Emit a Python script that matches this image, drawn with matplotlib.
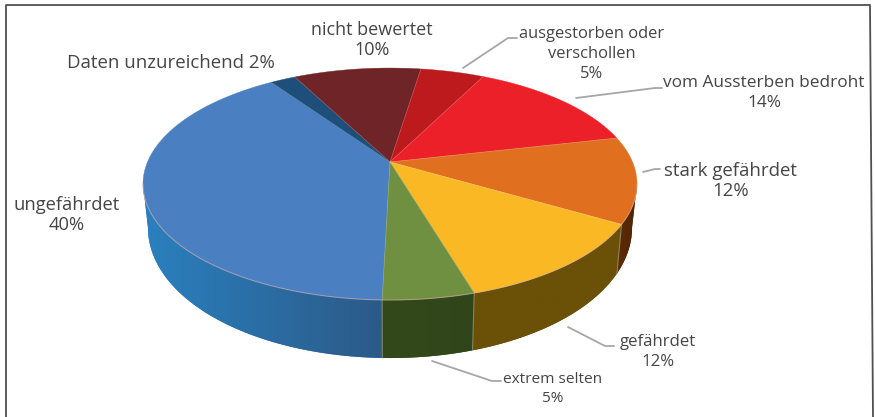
import numpy as np
import matplotlib
matplotlib.use("Agg")
import matplotlib.pyplot as plt
from matplotlib.colors import to_rgb
from matplotlib.patches import Polygon

plt.rcParams['font.family'] = ['Open Sans', 'DejaVu Sans']

# data, clockwise from the front of the pie
categories = ['ungefährdet', 'Daten unzureichend', 'nicht bewertet', 'ausgestorben oder verschollen',
              'vom Aussterben bedroht', 'stark gefährdet', 'gefährdet', 'extrem selten']
values = [40, 2, 10, 5, 14, 12, 12, 5]
top_colors = ['#4a80c2', '#1d4f7a', '#6f2427', '#bd1a1e', '#ec2029', '#e07020', '#fab824', '#6f9040']
side_left = ['#2a80bf', '#1d4f7a', '#4a1518', '#7a1013', '#8f1218', '#5e2c04', '#6b5008', '#34491a']
side_right = ['#2c5a88', '#1d4f7a', '#4a1518', '#7a1013', '#8f1218', '#4f2402', '#6b5008', '#30451a']

# label text, anchor centre, font size, line spacing
labels = [
    ('ungefährdet\n40%', 67, 215, 13.2, 1.15),
    ('Daten unzureichend 2%', 171, 63, 13.4, 1.15),
    ('nicht bewertet\n10%', 372, 40, 13.0, 1.2),
    ('ausgestorben oder\nverschollen\n5%', 592, 54, 11.9, 1.34),
    ('vom Aussterben bedroht\n14%', 764, 93, 12.4, 1.27),
    ('stark gefährdet\n12%', 731, 181, 13.4, 1.17),
    ('gefährdet\n12%', 658, 352, 12.1, 1.27),
    ('extrem selten\n5%', 553, 389, 11.1, 1.42),
]
leaders = [
    ([463, 508, 517], [68, 38, 38]),
    ([576, 655, 662], [98, 88, 88]),
    ([643, 655, 660], [172, 169, 169]),
    ([568, 605, 614], [327, 346, 346]),
    ([432, 492, 501], [361, 381, 381]),
]

# geometry of the tilted disc, in pixels
cx, cy = 390, 162
rx, ry, persp = 242.5, 111.8, 0.19
start = 181.5
# part of the rim that shows a wall: between the two silhouette tangents
wall_from = np.degrees(np.arccos(-persp))
wall_to = 360 - wall_from


def top_xy(theta):
    u, v = np.sin(np.radians(theta)), np.cos(np.radians(theta))
    w = 1 + persp * v
    return cx + rx * u / w, cy - ry * v / w


def bottom_xy(theta):
    x, y = top_xy(theta)
    v = np.cos(np.radians(theta))
    return cx + (x - cx) * 0.98, y + 40 - 18 * v


fig = plt.figure(figsize=(8.75, 4.17), dpi=100)
ax = fig.add_axes([0, 0, 1, 1])

# frame, slightly skewed in the scan and open at the bottom
ax.plot([6, 6, 870, 873], [417, 5, 5, 417], color='#505050', lw=1.3, zorder=1)

edges = start + np.cumsum([0] + values) * 3.6

# side wall: one clipped horizontal gradient per visible slice
for i in range(len(values)):
    # angles past 360 wrap round to the right side of the pie
    shift = 360 if edges[i] >= 360 else 0
    a, b = max(edges[i] - shift, wall_from), min(edges[i + 1] - shift, wall_to)
    if a >= b:
        continue
    th = np.linspace(a, b, 100)
    xt, yt = top_xy(th)
    xb, yb = bottom_xy(th)
    poly = Polygon(np.c_[np.r_[xt, xb[::-1]], np.r_[yt, yb[::-1]]], closed=True,
                   fc=side_left[i], ec='none', zorder=2)
    ax.add_patch(poly)
    x0, x1 = min(xt.min(), xb.min()), max(xt.max(), xb.max())
    ramp = np.linspace(0, 1, 64)[None, :, None]
    grad = np.array(to_rgb(side_left[i])) * (1 - ramp) + np.array(to_rgb(side_right[i])) * ramp
    im = ax.imshow(grad, extent=[x0, x1, 400, 100], aspect='auto', zorder=2.1, interpolation='bilinear')
    im.set_clip_path(poly)

# pale lines where the front slices meet on the wall
for th0 in edges[[0, 6, 7]]:
    xt, yt = top_xy(th0)
    xb, yb = bottom_xy(th0)
    ax.plot([xt, xb], [yt, yb], color='#9a9a80', lw=0.8, alpha=0.7, zorder=3)

# top face
for i in range(len(values)):
    th = np.linspace(edges[i], edges[i + 1], 80)
    x, y = top_xy(th)
    ax.fill(np.r_[cx, x], np.r_[cy, y], color=top_colors[i], lw=0.3, zorder=4)
    ax.plot([cx, x[0]], [cy, y[0]], color='#ffffff', lw=0.6, alpha=0.18, zorder=5)

# soft rim
th = np.linspace(wall_from, wall_to, 200)
x, y = top_xy(th)
ax.plot(x, y, color='#d9b0a8', lw=0.8, alpha=0.55, zorder=5)

for xs, ys in leaders:
    ax.plot(xs, ys, color='#a6a6aa', lw=1.3, zorder=3, solid_capstyle='round')

for txt, x, y, size, spacing in labels:
    ax.text(x, y, txt, ha='center', va='center', fontsize=size, color='#454545',
            linespacing=spacing, zorder=6)

ax.set_xlim(0, 875)
ax.set_ylim(417, 0)
ax.axis('off')
fig.savefig('out.png', dpi=100)
